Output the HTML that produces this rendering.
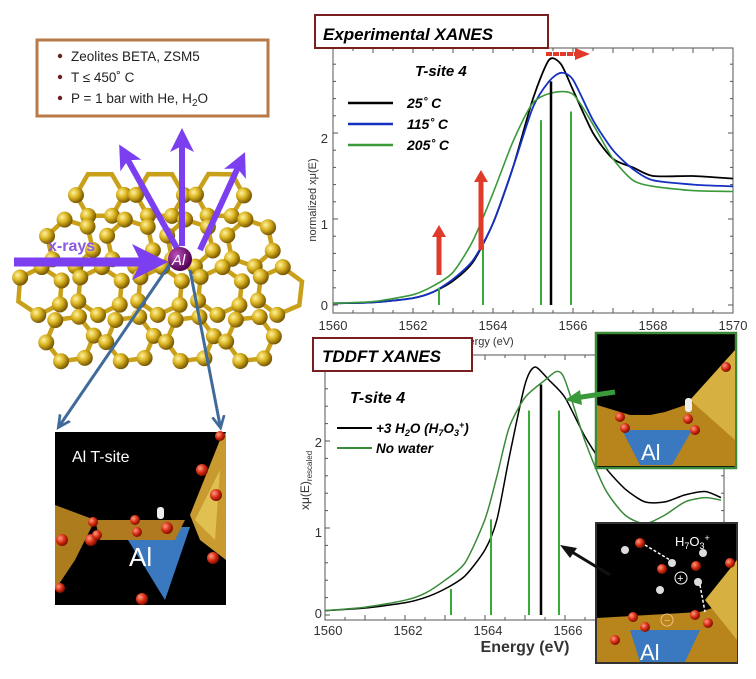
<!DOCTYPE html>
<html><head><meta charset="utf-8">
<style>
body{margin:0;background:#fff;width:756px;height:679px;overflow:hidden;font-family:"Liberation Sans",sans-serif}
svg{position:absolute;left:0;top:0}
text{font-family:"Liberation Sans",sans-serif}
</style></head><body>
<svg id="s" width="756" height="679" viewBox="0 0 756 679" xmlns="http://www.w3.org/2000/svg">
<defs>
<radialGradient id="gb" cx="35%" cy="35%" r="65%"><stop offset="0" stop-color="#fff3a0"/><stop offset="0.5" stop-color="#d9b21e"/><stop offset="1" stop-color="#7a5a05"/></radialGradient>
<radialGradient id="rb" cx="35%" cy="35%" r="65%"><stop offset="0" stop-color="#ff9a80"/><stop offset="0.6" stop-color="#d42a10"/><stop offset="1" stop-color="#801000"/></radialGradient>
<radialGradient id="pb" cx="35%" cy="35%" r="65%"><stop offset="0" stop-color="#c050c0"/><stop offset="1" stop-color="#500050"/></radialGradient>
<marker id="ap" markerWidth="4" markerHeight="4" refX="2" refY="2" orient="auto" markerUnits="strokeWidth"><path d="M0,0L4,2L0,4L1,2z" fill="#7b3ff0"/></marker>
<marker id="ab" markerWidth="5" markerHeight="5" refX="3" refY="2.5" orient="auto" markerUnits="strokeWidth"><path d="M0,0.5L4,2.5L0,4.5M4,2.5" stroke="#3f6a9a" fill="none" stroke-width="0.9"/></marker>
</defs>
<g id="frame"></g>
<rect x="37" y="40" width="231" height="76" fill="#fff" stroke="#b97a47" stroke-width="3"/>
<g font-size="13.5" fill="#222">
<circle cx="60" cy="56" r="2.2" fill="#6a2020"/><text x="71" y="61">Zeolites BETA, ZSM5</text>
<circle cx="60" cy="77" r="2.2" fill="#6a2020"/><text x="71" y="82">T ≤ 450˚  C</text>
<circle cx="60" cy="98" r="2.2" fill="#6a2020"/><text x="71" y="103">P = 1 bar with He, H<tspan font-size="10" dy="3">2</tspan><tspan dy="-3">O</tspan></text>
</g>
<g>
<rect x="55" y="432" width="171" height="173" fill="#000"/>
<polygon points="55,505 95,520 75,560 55,590" fill="#c08a20" opacity="0.9"/>
<polygon points="120,527 190,527 165,600" fill="#3a78c0"/>
<polygon points="95,520 185,520 175,540 100,540" fill="#b07a20"/>
<polygon points="190,515 220,440 226,432 226,560 200,540" fill="#c89a30"/>
<polygon points="195,520 220,470 215,540" fill="#e8d060" opacity="0.7"/>
<text x="72" y="462" font-size="16" fill="#fff">Al T-site</text>
<text x="129" y="566" font-size="26" fill="#fff">Al</text>
<g fill="url(#rb)"><circle cx="91" cy="540" r="6"/><circle cx="93" cy="522" r="5"/><circle cx="97" cy="535" r="5"/><circle cx="167" cy="528" r="6"/><circle cx="137" cy="532" r="5"/><circle cx="135" cy="520" r="5"/><circle cx="142" cy="599" r="6"/><circle cx="202" cy="470" r="6"/><circle cx="216" cy="495" r="6"/><circle cx="213" cy="558" r="6"/><circle cx="60" cy="588" r="5"/><circle cx="62" cy="540" r="6"/><circle cx="220" cy="436" r="5"/></g>
<rect x="157" y="507" width="7" height="12" rx="3" fill="#eee"/>
</g>
<line x1="170" y1="264" x2="60" y2="425" stroke="#3f6a9a" stroke-width="3" marker-end="url(#ab)"/>
<line x1="190" y1="270" x2="220" y2="425" stroke="#3f6a9a" stroke-width="3" marker-end="url(#ab)"/>
<g stroke="#7b3ff0" stroke-width="6">
<line x1="178" y1="250" x2="125" y2="155" marker-end="url(#ap)"/>
<line x1="182" y1="246" x2="182" y2="140" marker-end="url(#ap)"/>
<line x1="200" y1="250" x2="240" y2="163" marker-end="url(#ap)"/>
<line x1="14" y1="262" x2="150" y2="262" stroke-width="9" marker-end="url(#ap)"/>
</g>
<text x="48" y="251" font-size="16" font-weight="bold" fill="#8a5ae0">x-rays</text>
<circle cx="180" cy="259" r="12" fill="url(#pb)"/>
<text x="172" y="265" font-size="15" font-style="italic" fill="#fff">Al</text>

<g id="top"></g>
<rect x="315" y="15" width="233" height="33" fill="#fff" stroke="#7a1f1f" stroke-width="2"/>
<text x="323" y="40" font-size="17" font-weight="bold" font-style="italic">Experimental XANES</text>
<text x="415" y="76" font-size="15" font-weight="bold" font-style="italic">T-site 4</text>
<line x1="348" y1="103" x2="393" y2="103" stroke="#000" stroke-width="2.5"/>
<line x1="348" y1="124" x2="393" y2="124" stroke="#1530c0" stroke-width="2.5"/>
<line x1="348" y1="145" x2="393" y2="145" stroke="#3a9a3a" stroke-width="2.5"/>
<g font-size="14" font-weight="bold" font-style="italic"><text x="407" y="108">25˚ C</text><text x="407" y="129">115˚ C</text><text x="407" y="150">205˚ C</text></g>
<text transform="translate(316,200) rotate(-90)" font-size="11" text-anchor="middle" fill="#333">normalized xμ(E)</text>
<text x="455" y="345" font-size="11" fill="#333">Energy  (eV)</text>

<g id="bot"></g>
<rect x="313" y="338" width="159" height="33" fill="#fff" stroke="#7a1f1f" stroke-width="2"/>
<text x="322" y="362" font-size="17" font-weight="bold" font-style="italic">TDDFT XANES</text>
<text x="350" y="403" font-size="16" font-weight="bold" font-style="italic">T-site 4</text>
<line x1="337" y1="428" x2="372" y2="428" stroke="#000" stroke-width="2"/>
<line x1="337" y1="448" x2="372" y2="448" stroke="#3a8a3a" stroke-width="2"/>
<text x="376" y="433" font-size="13.5" font-weight="bold" font-style="italic">+3 H<tspan font-size="9" dy="3">2</tspan><tspan dy="-3">O  (H</tspan><tspan font-size="9" dy="3">7</tspan><tspan dy="-3">O</tspan><tspan font-size="9" dy="3">3</tspan><tspan font-size="9" dy="-8">+</tspan><tspan dy="5">)</tspan></text>
<text x="376" y="453" font-size="13.5" font-weight="bold" font-style="italic">No water</text>
<text transform="translate(309,510) rotate(-90)" font-size="12" fill="#333">xμ(E)<tspan font-size="8" dy="3">rescaled</tspan></text>
<text x="525" y="652" font-size="16" font-weight="bold" text-anchor="middle" fill="#333">Energy (eV)</text>

<g>
<rect x="596" y="333" width="140" height="135" fill="#000" stroke="#3a8a3a" stroke-width="2.5"/>
<polygon points="597,405 630,415 650,415 665,412 700,400 735,360 735,466 597,466" fill="#b8841c"/>
<polygon points="690,400 735,350 735,440" fill="#d6b040"/>
<polygon points="622,430 692,430 672,465 640,465" fill="#3a78c0"/>
<text x="641" y="460" font-size="22" fill="#fff">Al</text>
<g fill="url(#rb)"><circle cx="620" cy="417" r="5"/><circle cx="625" cy="428" r="5"/><circle cx="688" cy="419" r="5"/><circle cx="695" cy="430" r="5"/><circle cx="726" cy="367" r="5"/></g>
<rect x="685" y="398" width="7" height="14" rx="3" fill="#eee"/>
<rect x="596" y="523" width="141" height="140" fill="#000" stroke="#333" stroke-width="2"/>
<polygon points="597,618 700,612 737,600 737,662 597,662" fill="#b8841c"/>
<polygon points="705,600 737,560 737,640" fill="#d6b040"/>
<polygon points="630,630 700,630 685,662 640,662" fill="#3a78c0"/>
<text x="640" y="660" font-size="22" fill="#fff">Al</text>
<text x="675" y="546" font-size="13" fill="#fff">H<tspan font-size="9" dy="3">7</tspan><tspan dy="-3">O</tspan><tspan font-size="9" dy="3">3</tspan><tspan font-size="9" dy="-8">+</tspan></text>
<circle cx="681" cy="578" r="6" fill="none" stroke="#fff"/><text x="677" y="582" font-size="11" fill="#fff">+</text>
<circle cx="667" cy="620" r="6" fill="none" stroke="#f0c080"/><text x="664" y="624" font-size="11" fill="#f0c080">−</text>
<g fill="url(#rb)"><circle cx="640" cy="543" r="5"/><circle cx="696" cy="566" r="5"/><circle cx="662" cy="569" r="5"/><circle cx="633" cy="617" r="5"/><circle cx="695" cy="615" r="5"/><circle cx="708" cy="623" r="5"/><circle cx="645" cy="627" r="5"/><circle cx="615" cy="640" r="5"/><circle cx="730" cy="563" r="5"/></g>
<g fill="#ddd"><circle cx="625" cy="550" r="4"/><circle cx="660" cy="590" r="4"/><circle cx="698" cy="582" r="4"/><circle cx="672" cy="563" r="4"/><circle cx="703" cy="553" r="4"/></g>
<path d="M645,545 L670,560 M700,585 L705,612" stroke="#fff" stroke-dasharray="3,2" stroke-width="1.5"/>
</g>
<line x1="615" y1="392" x2="575" y2="398" stroke="#3a9a3a" stroke-width="5"/>
<path d="M565,400 L580,390 L582,405 z" fill="#3a9a3a"/>
<line x1="610" y1="575" x2="572" y2="552" stroke="#111" stroke-width="3"/>
<path d="M560,545 L577,548 L570,558 z" fill="#111"/>
</svg>
<script>
const NS="http://www.w3.org/2000/svg";
function el(p,t,a){const e=document.createElementNS(NS,t);for(const k in a)e.setAttribute(k,a[k]);p.appendChild(e);return e;}
const fr=document.getElementById('frame');
const rings=[];
let row=0;
for(let cy=195;cy<=370;cy+=48){const off=(row%2)?30:0;for(let cx=40+off;cx<=290;cx+=60){rings.push([cx,cy,24]);}row++;}
const balls=[];
const bondG=el(fr,'g',{});
rings.forEach(([cx,cy,r])=>{
  if(((cx-158)/140)**2+((cy-272)/100)**2>1.05) return;
  if(Math.hypot(cx-165,cy-320)<25) return;
  const n=6;const ph=(cx*0.07+cy*0.05);
  let d="";const pts=[];
  for(let i=0;i<n;i++){const a=i*Math.PI*2/n+ph;pts.push([cx+r*Math.cos(a),cy+r*Math.sin(a)]);}
  pts.forEach((p,i)=>{d+=(i?"L":"M")+p[0].toFixed(1)+","+p[1].toFixed(1);});d+="Z";
  el(bondG,'path',{d:d,fill:'none',stroke:'#c9a01a','stroke-width':4.5});
  pts.forEach(p=>balls.push(p));
});
balls.forEach(([x,y])=>{if(y<180||y>370||x<20||x>292)return;el(fr,'circle',{cx:x,cy:y,r:8,fill:'url(#gb)'});});
function chart(g,x0,y0,sx,sy,xl,xr,yt,yb){
  el(g,'rect',{x:xl,y:yt,width:xr-xl,height:yb-yt,fill:'none',stroke:'#555','stroke-width':1});
  for(let e=1560;e<=1570;e+=0.5){const x=x0+(e-1560)*sx;const L=(e%1==0)?5:3;
    el(g,'line',{x1:x,y1:yb,x2:x,y2:yb-L,stroke:'#555'});el(g,'line',{x1:x,y1:yt,x2:x,y2:yt+L,stroke:'#555'});}
  for(let v=0;v<=3;v+=0.2){const y=y0-v*sy;if(y<yt)break;const L=(Math.abs(v-Math.round(v))<0.01)?5:3;
    el(g,'line',{x1:xl,y1:y,x2:xl+L,y2:y,stroke:'#555'});el(g,'line',{x1:xr,y1:y,x2:xr-L,y2:y,stroke:'#555'});}
}
function line(g,pts,x0,y0,sx,sy,col,w){
  const P=pts.map(p=>[x0+(p[0]-1560)*sx,y0-p[1]*sy]);
  let d="M"+P[0][0].toFixed(1)+","+P[0][1].toFixed(1);
  for(let i=0;i<P.length-1;i++){const p0=P[Math.max(0,i-1)],p1=P[i],p2=P[i+1],p3=P[Math.min(P.length-1,i+2)];
    const c1=[p1[0]+(p2[0]-p0[0])/8,p1[1]+(p2[1]-p0[1])/8],c2=[p2[0]-(p3[0]-p1[0])/8,p2[1]-(p3[1]-p1[1])/8];
    d+=`C${c1[0].toFixed(1)},${c1[1].toFixed(1)} ${c2[0].toFixed(1)},${c2[1].toFixed(1)} ${p2[0].toFixed(1)},${p2[1].toFixed(1)}`;}
  el(g,'path',{d:d,fill:'none',stroke:col,'stroke-width':w,'stroke-linejoin':'round'});}
function stick(g,e,h,x0,y0,sx,sy,col,w){const x=x0+(e-1560)*sx;el(g,'line',{x1:x,y1:y0,x2:x,y2:y0-h*sy,stroke:col,'stroke-width':w});}
function lab(g,t,x,y,s,anch){const e=el(g,'text',{x:x,y:y,'font-size':s,'text-anchor':anch||'middle',fill:'#333'});e.textContent=t;}
const T=document.getElementById('top');
const tx0=333,ty0=305,tsx=40,tsy=86;
chart(T,tx0,ty0,tsx,tsy,333,733,48,313);
[1560,1562,1564,1566,1568,1570].forEach(e=>lab(T,e,tx0+(e-1560)*tsx,330,13));
[[0,305],[1,224],[2,138]].forEach(([v,y])=>lab(T,v,328,y+5,13,'end'));
line(T,[[1560,0.02],[1561,0.03],[1562,0.08],[1562.5,0.15],[1563,0.28],[1563.5,0.5],[1564,0.95],[1564.5,1.6],[1565,2.4],[1565.4,2.85],[1565.7,2.8],[1566,2.5],[1566.5,2.0],[1567,1.7],[1567.5,1.6],[1568,1.5],[1569,1.5],[1570,1.47]],tx0,ty0,tsx,tsy,'#000',1.8);
line(T,[[1560,0.02],[1561,0.03],[1562,0.08],[1562.5,0.15],[1563,0.3],[1563.5,0.52],[1564,0.95],[1564.5,1.6],[1565,2.3],[1565.4,2.6],[1565.7,2.7],[1566,2.62],[1566.5,2.15],[1567,1.8],[1567.5,1.58],[1568,1.45],[1569,1.4],[1570,1.38]],tx0,ty0,tsx,tsy,'#1530c0',1.8);
line(T,[[1560,0.02],[1561,0.04],[1562,0.12],[1562.5,0.22],[1563,0.38],[1563.5,0.75],[1564,1.3],[1564.5,1.9],[1565,2.35],[1565.5,2.47],[1566,2.45],[1566.5,2.1],[1567,1.7],[1567.5,1.45],[1568,1.38],[1569,1.33],[1570,1.32]],tx0,ty0,tsx,tsy,'#3a9a3a',1.6);
[[1562.65,0.2],[1563.75,0.75],[1565.2,2.15],[1565.95,2.25]].forEach(([e,h])=>stick(T,e,h,tx0,ty0,tsx,tsy,'#3aaa3a',2));
stick(T,1565.45,2.6,tx0,ty0,tsx,tsy,'#000',2.5);
function rarrow(x,y1,y2){el(T,'line',{x1:x,y1:y1,x2:x,y2:y2+10,stroke:'#e03a2a','stroke-width':5});el(T,'path',{d:`M${x-7},${y2+12}L${x},${y2}L${x+7},${y2+12}z`,fill:'#e03a2a'});}
rarrow(439,275,225);rarrow(481,250,170);
el(T,'line',{x1:546,y1:54,x2:578,y2:54,stroke:'#e03a2a','stroke-width':4,'stroke-dasharray':'6,1'});
el(T,'path',{d:'M575,48L590,54L575,60z',fill:'#e03a2a'});
const B=document.getElementById('bot');
const bx0=325,by0=615,bsx=40,bsy=87;
chart(B,bx0,by0,bsx,bsy,325,724,355,620);
[1560,1562,1564,1566].forEach(e=>lab(B,e,bx0+(e-1560)*bsx+3,635,13));
[[0,613],[1,532],[2,442]].forEach(([v,y])=>lab(B,v,322,y+5,13,'end'));
line(B,[[1560,0.05],[1561,0.08],[1562,0.14],[1562.5,0.2],[1563,0.3],[1563.5,0.45],[1564,0.75],[1564.3,1.1],[1564.6,1.8],[1565,2.65],[1565.25,2.85],[1565.6,2.7],[1566,2.5],[1566.5,2.05],[1567,1.7],[1567.5,1.45],[1568,1.3],[1568.5,1.3],[1569,1.38],[1569.5,1.42],[1569.9,1.35]],bx0,by0,bsx,bsy,'#000',1.5);
line(B,[[1560,0.05],[1561,0.09],[1562,0.17],[1562.5,0.25],[1563,0.4],[1563.5,0.6],[1564,1.1],[1564.3,1.6],[1564.6,2.15],[1565,2.5],[1565.5,2.7],[1565.8,2.8],[1566,2.7],[1566.5,2.0],[1567,1.45],[1567.5,1.15],[1568,1.05],[1568.5,1.15],[1569,1.3],[1569.5,1.35],[1569.9,1.32]],bx0,by0,bsx,bsy,'#3a8a3a',1.5);
[[1563.15,0.3],[1564.15,1.1],[1565.1,2.35],[1565.85,2.35]].forEach(([e,h])=>stick(B,e,h,bx0,by0,bsx,bsy,'#3aaa3a',2));
stick(B,1565.4,2.65,bx0,by0,bsx,bsy,'#000',2.5);
</script>
</body></html>
